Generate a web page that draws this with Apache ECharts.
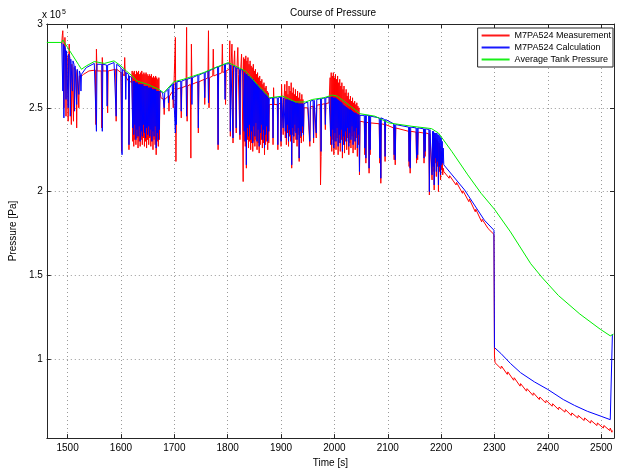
<!DOCTYPE html>
<html>
<head>
<meta charset="utf-8">
<title>Course of Pressure</title>
<script src="https://cdn.jsdelivr.net/npm/echarts@6/dist/echarts.min.js"></script>
<style>
  html, body { margin: 0; padding: 0; background: #fff; }
  #chart { width: 617px; height: 473px; }
</style>
</head>
<body>
<div id="chart"></div>
<script>
// values in units of 1e5 Pa (axis shows "x 10^5"), time in s
const xTicks = [1500, 1600, 1700, 1800, 1900, 2000, 2100, 2200, 2300, 2400, 2500]
const yTicks = [1, 1.5, 2, 2.5, 3]
const seriesNames = ['M7PA524 Measurement', 'M7PA524 Calculation', 'Average Tank Pressure']
const seriesColors = ['#ff0000', '#0000ff', '#00ee00']

const tankAvg = [
  [1461, 2.89], [1489, 2.89], [1491, 2.905], [1500, 2.86], [1510, 2.81], [1520, 2.76], [1526, 2.73],
  [1535, 2.75], [1550, 2.776], [1569, 2.765], [1587, 2.78], [1600, 2.75], [1610, 2.72], [1621, 2.69],
  [1630, 2.66], [1650, 2.64], [1671, 2.61], [1680, 2.59], [1699, 2.655], [1717, 2.67], [1736, 2.69],
  [1755, 2.71], [1773, 2.735], [1801, 2.77], [1833, 2.72], [1855, 2.64], [1879, 2.56], [1903, 2.57],
  [1927, 2.535], [1946, 2.535], [1959, 2.55], [1980, 2.56], [1996, 2.576], [2005, 2.57], [2030, 2.51],
  [2048, 2.465], [2076, 2.45], [2102, 2.41], [2145, 2.39], [2182, 2.376], [2195, 2.35], [2220, 2.24],
  [2250, 2.10], [2275, 1.99], [2300, 1.895], [2330, 1.76], [2368, 1.57], [2390, 1.485], [2420, 1.38],
  [2460, 1.27], [2498, 1.18], [2517, 1.14], [2523, 1.15]
]

const calculated = [
  [1489, 2.89], [1490, 2.88], [1491, 2.60], [1492, 2.88], [1493, 2.44], [1494, 2.87], [1496, 2.85], [1497, 2.55],
  [1498, 2.84], [1500, 2.83], [1501, 2.50], [1502, 2.82], [1504, 2.80], [1505, 2.45], [1506, 2.79], [1508, 2.79],
  [1509, 2.60], [1510, 2.78], [1512, 2.76], [1513, 2.48], [1514, 2.75], [1516, 2.74], [1517, 2.52], [1518, 2.73],
  [1520, 2.72], [1521, 2.58], [1522, 2.72], [1524, 2.70], [1525, 2.60], [1526, 2.70], [1528, 2.71],
  [1535, 2.74], [1550, 2.765], [1553, 2.76], [1554, 2.36], [1555, 2.76], [1564, 2.76], [1565, 2.36], [1566, 2.76],
  [1573, 2.755], [1574, 2.51], [1575, 2.755], [1587, 2.77], [1590, 2.765], [1591, 2.45], [1592, 2.76], [1600, 2.74],
  [1601, 2.735], [1602, 2.22], [1603, 2.73], [1608, 2.715], [1609, 2.55], [1610, 2.71], [1614, 2.70], [1615, 2.28],
  [1616, 2.69], [1620, 2.68],
  [1621, 2.67], [1622, 2.38], [1623, 2.66], [1624, 2.34], [1625, 2.66], [1626, 2.40], [1627, 2.65], [1628, 2.31],
  [1629, 2.65], [1630, 2.37], [1631, 2.65], [1632, 2.33], [1633, 2.64], [1634, 2.39], [1635, 2.64], [1636, 2.30],
  [1637, 2.64], [1638, 2.36], [1639, 2.64], [1640, 2.33], [1641, 2.64], [1642, 2.40], [1643, 2.63], [1644, 2.35],
  [1645, 2.63], [1646, 2.32], [1647, 2.63], [1648, 2.38], [1649, 2.63], [1650, 2.34], [1651, 2.62], [1652, 2.39],
  [1653, 2.62], [1654, 2.33], [1655, 2.62], [1656, 2.37], [1657, 2.62], [1658, 2.30], [1659, 2.61], [1660, 2.36],
  [1661, 2.61], [1662, 2.33], [1663, 2.61], [1664, 2.39], [1665, 2.61], [1666, 2.26], [1667, 2.60], [1668, 2.35],
  [1669, 2.60], [1670, 2.31], [1671, 2.60], [1672, 2.37], [1673, 2.60],
  [1675, 2.60], [1678, 2.59], [1680, 2.585], [1681, 2.50], [1682, 2.59], [1688, 2.61], [1689, 2.53], [1690, 2.615],
  [1696, 2.64], [1697, 2.55], [1698, 2.645], [1701, 2.65], [1702, 2.35], [1703, 2.65], [1704, 2.40], [1705, 2.655],
  [1712, 2.66], [1713, 2.48], [1714, 2.66], [1722, 2.67], [1723, 2.45], [1724, 2.67], [1732, 2.68], [1733, 2.52],
  [1734, 2.68], [1744, 2.695], [1745, 2.38], [1746, 2.695], [1756, 2.71], [1757, 2.56], [1758, 2.71], [1763, 2.72],
  [1764, 2.53], [1765, 2.72], [1781, 2.745], [1782, 2.28], [1783, 2.745], [1794, 2.76], [1795, 2.55], [1796, 2.76],
  [1800, 2.765],
  [1804, 2.76], [1805, 2.36], [1806, 2.755], [1809, 2.75], [1810, 2.32], [1811, 2.75], [1815, 2.74], [1816, 2.38],
  [1817, 2.74], [1822, 2.73], [1823, 2.34], [1824, 2.73], [1828, 2.725],
  [1830, 2.72], [1831, 2.36], [1832, 2.71], [1833, 2.30], [1834, 2.70], [1835, 2.16], [1836, 2.70], [1837, 2.38],
  [1838, 2.69], [1839, 2.33], [1840, 2.69], [1841, 2.40], [1842, 2.68], [1843, 2.31], [1844, 2.68], [1845, 2.36],
  [1846, 2.67], [1847, 2.29], [1848, 2.67], [1849, 2.39], [1850, 2.66], [1851, 2.33], [1852, 2.65], [1853, 2.41],
  [1854, 2.64], [1855, 2.30], [1856, 2.64], [1857, 2.37], [1858, 2.63], [1859, 2.27], [1860, 2.62], [1861, 2.35],
  [1862, 2.61], [1863, 2.40], [1864, 2.61], [1865, 2.31], [1866, 2.60], [1867, 2.37], [1868, 2.59], [1869, 2.26],
  [1870, 2.58], [1871, 2.34], [1872, 2.58], [1873, 2.39], [1874, 2.57], [1875, 2.30], [1876, 2.56], [1877, 2.36],
  [1878, 2.555],
  [1884, 2.56], [1885, 2.32], [1886, 2.56], [1893, 2.56], [1894, 2.28], [1895, 2.56], [1899, 2.565], [1900, 2.30],
  [1901, 2.565], [1903, 2.56], [1904, 2.38], [1905, 2.56],
  [1907, 2.555], [1908, 2.36], [1909, 2.55], [1910, 2.32], [1911, 2.55], [1912, 2.40], [1913, 2.55], [1914, 2.30],
  [1915, 2.545], [1916, 2.37], [1917, 2.545], [1918, 2.34], [1919, 2.54], [1920, 2.16], [1921, 2.54], [1922, 2.38],
  [1923, 2.54], [1924, 2.33], [1925, 2.535], [1926, 2.40], [1927, 2.53], [1928, 2.35], [1929, 2.53], [1930, 2.31],
  [1931, 2.53], [1932, 2.38], [1933, 2.525], [1934, 2.20], [1935, 2.525], [1936, 2.36], [1937, 2.525], [1938, 2.33],
  [1939, 2.525], [1940, 2.39], [1941, 2.525], [1942, 2.34], [1943, 2.525],
  [1950, 2.535], [1953, 2.54], [1954, 2.30], [1955, 2.54], [1960, 2.545], [1961, 2.32], [1962, 2.545], [1965, 2.55],
  [1966, 2.35], [1967, 2.55], [1974, 2.555], [1975, 2.24], [1976, 2.555], [1982, 2.56], [1983, 2.40], [1984, 2.56],
  [1990, 2.565],
  [1992, 2.565], [1993, 2.33], [1994, 2.565], [1995, 2.28], [1996, 2.565], [1997, 2.37], [1998, 2.56], [1999, 2.26],
  [2000, 2.56], [2001, 2.35], [2002, 2.56], [2003, 2.30], [2004, 2.555], [2005, 2.38], [2006, 2.55], [2007, 2.27],
  [2008, 2.545], [2009, 2.34], [2010, 2.54], [2011, 2.29], [2012, 2.535], [2013, 2.37], [2014, 2.53], [2015, 2.24],
  [2016, 2.52], [2017, 2.33], [2018, 2.515], [2019, 2.28], [2020, 2.51], [2021, 2.36], [2022, 2.505], [2023, 2.30],
  [2024, 2.50], [2025, 2.38], [2026, 2.495], [2027, 2.27], [2028, 2.49], [2029, 2.35], [2030, 2.49], [2031, 2.31],
  [2032, 2.485], [2033, 2.39], [2034, 2.48], [2035, 2.28], [2036, 2.475], [2037, 2.36], [2038, 2.47], [2039, 2.30],
  [2040, 2.47], [2041, 2.38], [2042, 2.465], [2043, 2.26], [2044, 2.46], [2045, 2.34], [2046, 2.46], [2047, 2.12],
  [2048, 2.455],
  [2056, 2.455], [2057, 2.26], [2058, 2.455], [2059, 2.20], [2060, 2.455], [2064, 2.455], [2065, 2.14], [2066, 2.455],
  [2067, 2.25], [2068, 2.45], [2084, 2.44], [2085, 2.20], [2086, 2.44], [2087, 2.08], [2088, 2.44], [2094, 2.43],
  [2095, 2.21], [2096, 2.43], [2111, 2.405], [2112, 2.22], [2113, 2.40], [2114, 2.19], [2115, 2.40], [2139, 2.385],
  [2140, 2.18], [2141, 2.385], [2142, 2.14], [2143, 2.385], [2153, 2.38], [2154, 2.20], [2155, 2.38], [2156, 2.22],
  [2157, 2.38], [2167, 2.375], [2168, 2.20], [2169, 2.375], [2170, 2.24], [2171, 2.375], [2177, 2.37], [2178, 2.00],
  [2179, 2.37],
  [2182, 2.366], [2183, 2.10], [2184, 2.36], [2185, 2.15], [2186, 2.36], [2187, 2.04], [2188, 2.35], [2189, 2.20],
  [2190, 2.35], [2191, 2.12], [2192, 2.35], [2193, 2.18], [2194, 2.34], [2195, 2.04], [2196, 2.34], [2197, 2.15],
  [2198, 2.33], [2199, 2.10], [2200, 2.32], [2201, 2.16], [2202, 2.30], [2203, 2.17], [2204, 2.26], [2205, 2.16],
  [2244, 2.01], [2281, 1.83], [2299, 1.77], [2300, 1.07], [2312, 1.035], [2330, 0.975], [2349, 0.92], [2375, 0.865],
  [2400, 0.82], [2429, 0.76], [2450, 0.725], [2474, 0.69], [2500, 0.66], [2517, 0.64], [2520, 0.635], [2521, 1.15]
]

const measured = [
  [1489, 2.88], [1490, 2.93], [1491, 2.96], [1492, 2.86], [1493, 2.50], [1494, 2.85], [1495, 2.92], [1496, 2.83],
  [1497, 2.45], [1498, 2.82], [1500, 2.80], [1501, 2.42], [1502, 2.79], [1503, 2.88], [1504, 2.78], [1506, 2.77],
  [1507, 2.40], [1508, 2.76], [1510, 2.75], [1511, 2.42], [1512, 2.74], [1514, 2.73], [1516, 2.72], [1517, 2.38],
  [1518, 2.71], [1520, 2.70], [1521, 2.50], [1522, 2.69], [1524, 2.69], [1526, 2.69], [1530, 2.70],
  [1540, 2.72], [1552, 2.725], [1553, 2.40], [1554, 2.85], [1555, 2.72], [1563, 2.72], [1564, 2.38], [1565, 2.80],
  [1566, 2.72], [1574, 2.72], [1575, 2.47], [1576, 2.72], [1590, 2.73], [1591, 2.42], [1592, 2.73], [1600, 2.71],
  [1601, 2.24], [1602, 2.71], [1606, 2.69], [1607, 2.80], [1608, 2.69], [1614, 2.66], [1615, 2.25], [1616, 2.66],
  [1620, 2.65],
  [1621, 2.72], [1622, 2.30], [1623, 2.71], [1624, 2.27], [1625, 2.72], [1626, 2.31], [1627, 2.70], [1628, 2.28],
  [1629, 2.72], [1630, 2.32], [1631, 2.71], [1632, 2.26], [1633, 2.72], [1634, 2.30], [1635, 2.70], [1636, 2.27],
  [1637, 2.71], [1638, 2.31], [1639, 2.72], [1640, 2.28], [1641, 2.70], [1642, 2.32], [1643, 2.71], [1644, 2.27],
  [1645, 2.70], [1646, 2.30], [1647, 2.71], [1648, 2.26], [1649, 2.70], [1650, 2.31], [1651, 2.69], [1652, 2.28],
  [1653, 2.70], [1654, 2.32], [1655, 2.69], [1656, 2.27], [1657, 2.70], [1658, 2.30], [1659, 2.68], [1660, 2.25],
  [1661, 2.69], [1662, 2.31], [1663, 2.68], [1664, 2.28], [1665, 2.69], [1666, 2.22], [1667, 2.68], [1668, 2.30],
  [1669, 2.67], [1670, 2.27], [1671, 2.68], [1672, 2.31], [1673, 2.60],
  [1675, 2.56], [1680, 2.55], [1681, 2.46], [1682, 2.55], [1689, 2.57], [1690, 2.48], [1691, 2.57], [1697, 2.60],
  [1698, 2.50], [1699, 2.60], [1701, 2.61], [1702, 2.92], [1703, 2.18], [1704, 2.61], [1712, 2.62], [1713, 2.44],
  [1714, 2.62], [1722, 2.63], [1723, 2.98], [1724, 2.42], [1725, 2.63], [1730, 2.64], [1731, 2.20], [1732, 2.88],
  [1733, 2.64], [1744, 2.655], [1745, 2.35], [1746, 2.655], [1756, 2.67], [1757, 2.52], [1758, 2.67], [1763, 2.68],
  [1764, 2.96], [1765, 2.50], [1766, 2.68], [1772, 2.69], [1773, 2.85], [1774, 2.69], [1781, 2.70], [1782, 2.25],
  [1783, 2.70], [1789, 2.71], [1790, 2.88], [1791, 2.71], [1795, 2.72], [1796, 2.52], [1797, 2.72], [1800, 2.73],
  [1803, 2.73], [1804, 2.90], [1805, 2.33], [1806, 2.73], [1808, 2.88], [1809, 2.72], [1810, 2.29], [1811, 2.72],
  [1813, 2.84], [1814, 2.71], [1816, 2.35], [1817, 2.71], [1819, 2.86], [1820, 2.70], [1823, 2.31], [1824, 2.70],
  [1826, 2.82], [1827, 2.69], [1829, 2.06], [1830, 2.80],
  [1831, 2.30], [1832, 2.79], [1833, 2.27], [1834, 2.81], [1835, 2.14], [1836, 2.78], [1837, 2.31], [1838, 2.80],
  [1839, 2.26], [1840, 2.76], [1841, 2.30], [1842, 2.78], [1843, 2.25], [1844, 2.75], [1845, 2.29], [1846, 2.74],
  [1847, 2.24], [1848, 2.76], [1849, 2.30], [1850, 2.72], [1851, 2.27], [1852, 2.73], [1853, 2.31], [1854, 2.70],
  [1855, 2.25], [1856, 2.71], [1857, 2.29], [1858, 2.68], [1859, 2.23], [1860, 2.69], [1861, 2.28], [1862, 2.66],
  [1863, 2.31], [1864, 2.67], [1865, 2.26], [1866, 2.64], [1867, 2.29], [1868, 2.65], [1869, 2.22], [1870, 2.62],
  [1871, 2.28], [1872, 2.63], [1873, 2.30], [1874, 2.60], [1875, 2.25], [1876, 2.59], [1877, 2.29], [1878, 2.52],
  [1884, 2.52], [1885, 2.28], [1886, 2.62], [1887, 2.52], [1893, 2.52], [1894, 2.25], [1895, 2.52], [1899, 2.53],
  [1900, 2.27], [1901, 2.64], [1902, 2.53], [1904, 2.34], [1905, 2.52],
  [1907, 2.64], [1908, 2.32], [1909, 2.60], [1910, 2.28], [1911, 2.66], [1912, 2.35], [1913, 2.58], [1914, 2.27],
  [1915, 2.63], [1916, 2.33], [1917, 2.60], [1918, 2.30], [1919, 2.65], [1920, 2.14], [1921, 2.59], [1922, 2.34],
  [1923, 2.62], [1924, 2.29], [1925, 2.58], [1926, 2.36], [1927, 2.61], [1928, 2.31], [1929, 2.57], [1930, 2.27],
  [1931, 2.60], [1932, 2.34], [1933, 2.56], [1934, 2.18], [1935, 2.59], [1936, 2.32], [1937, 2.55], [1938, 2.29],
  [1939, 2.58], [1940, 2.35], [1941, 2.55], [1942, 2.30], [1943, 2.50],
  [1950, 2.50], [1953, 2.505], [1954, 2.27], [1955, 2.505], [1960, 2.51], [1961, 2.29], [1962, 2.51], [1965, 2.515],
  [1966, 2.32], [1967, 2.515], [1973, 2.52], [1974, 2.04], [1975, 2.21], [1976, 2.52], [1982, 2.525], [1983, 2.37],
  [1984, 2.525], [1990, 2.53],
  [1992, 2.68], [1993, 2.28], [1994, 2.71], [1995, 2.24], [1996, 2.69], [1997, 2.31], [1998, 2.71], [1999, 2.22],
  [2000, 2.68], [2001, 2.30], [2002, 2.70], [2003, 2.25], [2004, 2.67], [2005, 2.32], [2006, 2.69], [2007, 2.22],
  [2008, 2.65], [2009, 2.29], [2010, 2.67], [2011, 2.24], [2012, 2.63], [2013, 2.31], [2014, 2.65], [2015, 2.20],
  [2016, 2.61], [2017, 2.28], [2018, 2.63], [2019, 2.23], [2020, 2.59], [2021, 2.30], [2022, 2.61], [2023, 2.25],
  [2024, 2.57], [2025, 2.32], [2026, 2.59], [2027, 2.22], [2028, 2.55], [2029, 2.29], [2030, 2.57], [2031, 2.26],
  [2032, 2.54], [2033, 2.33], [2034, 2.56], [2035, 2.23], [2036, 2.53], [2037, 2.30], [2038, 2.54], [2039, 2.25],
  [2040, 2.52], [2041, 2.32], [2042, 2.53], [2043, 2.21], [2044, 2.51], [2045, 2.28], [2046, 2.50], [2047, 2.10],
  [2048, 2.42],
  [2056, 2.415], [2057, 2.22], [2058, 2.415], [2059, 2.17], [2060, 2.415], [2064, 2.41], [2065, 2.11], [2066, 2.41],
  [2067, 2.22], [2068, 2.41], [2084, 2.405], [2085, 2.17], [2086, 2.405], [2087, 2.05], [2088, 2.405], [2094, 2.40],
  [2095, 2.18], [2096, 2.40], [2111, 2.38], [2112, 2.19], [2113, 2.38], [2114, 2.16], [2115, 2.38], [2139, 2.36],
  [2140, 2.15], [2141, 2.36], [2142, 2.11], [2143, 2.36], [2153, 2.355], [2154, 2.17], [2155, 2.355], [2156, 2.19],
  [2157, 2.355], [2167, 2.35], [2168, 2.17], [2169, 2.35], [2170, 2.21], [2171, 2.35], [2177, 2.345], [2178, 1.98],
  [2179, 2.345],
  [2182, 2.34], [2183, 2.07], [2184, 2.33], [2185, 2.12], [2186, 2.33], [2187, 2.01], [2188, 2.32], [2189, 2.17],
  [2190, 2.32], [2191, 2.09], [2192, 2.31], [2193, 2.15], [2194, 2.30], [2195, 2.00], [2196, 2.29], [2197, 2.12],
  [2198, 2.27], [2199, 2.07], [2200, 2.24], [2201, 2.13], [2202, 2.20], [2203, 2.10], [2204, 2.14], [2205, 2.12],
  [2215, 2.08], [2216, 2.095], [2228, 2.04], [2229, 2.055], [2240, 1.99], [2241, 2.005], [2252, 1.94], [2253, 1.955],
  [2264, 1.88], [2265, 1.895], [2276, 1.82], [2277, 1.835], [2288, 1.78], [2289, 1.79], [2299, 1.745], [2300, 1.02],
  [2301, 0.98],
  [2312, 0.945], [2313, 0.96], [2324, 0.91], [2325, 0.925], [2336, 0.875], [2337, 0.89], [2348, 0.84], [2349, 0.855],
  [2360, 0.81], [2361, 0.825], [2372, 0.785], [2373, 0.80], [2384, 0.76], [2385, 0.775], [2396, 0.74], [2397, 0.755],
  [2408, 0.72], [2409, 0.735], [2420, 0.70], [2421, 0.715], [2432, 0.685], [2433, 0.70], [2444, 0.665], [2445, 0.68],
  [2456, 0.65], [2457, 0.665], [2468, 0.635], [2469, 0.65], [2480, 0.62], [2481, 0.635], [2492, 0.605], [2493, 0.62],
  [2504, 0.59], [2505, 0.605], [2516, 0.575], [2517, 0.59], [2520, 0.565], [2521, 0.575]
]

const font = 'Liberation Sans, Arial, sans-serif'
const axisColor = '#262626'

const boxAxis = (position, ticks) => ({
  position,
  axisLine: { show: true, lineStyle: { color: axisColor, width: 1 } },
  axisTick: { show: true, inside: true, length: 4, customValues: ticks, lineStyle: { color: axisColor } },
  axisLabel: { show: false },
  splitLine: { show: false }
})

const chart = echarts.init(document.getElementById('chart'), null, { renderer: 'canvas' })

const option = {
  animation: false,
  backgroundColor: '#fff',
  grid: { left: 42, right: 3, top: 24, bottom: 29 },
  legend: {
    orient: 'vertical',
    right: 4,
    top: 28,
    backgroundColor: '#fff',
    borderColor: axisColor,
    borderWidth: 1,
    borderRadius: 0,
    padding: [2, 2, 2, 4],
    itemWidth: 28,
    itemHeight: 2,
    itemGap: 1,
    itemStyle: { borderWidth: 0 },
    textStyle: { fontSize: 9, fontFamily: font, color: '#000', lineHeight: 11 },
    data: seriesNames.map((name, i) => ({
      name,
      icon: 'rect',
      itemStyle: { color: seriesColors[i], borderWidth: 0, opacity: 0.9 }
    }))
  },
  xAxis: [
    {
      type: 'value',
      min: 1461,
      max: 2524,
      name: 'Time [s]',
      nameLocation: 'middle',
      nameGap: 18,
      nameTextStyle: { fontSize: 10, fontFamily: font, color: '#000' },
      axisLine: { show: true, lineStyle: { color: axisColor, width: 1 } },
      axisTick: { show: true, inside: true, length: 4, customValues: xTicks, lineStyle: { color: axisColor } },
      axisLabel: {
        customValues: xTicks,
        formatter: v => String(v),
        fontSize: 10,
        fontFamily: font,
        color: '#000',
        margin: 5
      },
      splitLine: { show: true, lineStyle: { color: '#9a9a9a', type: [1, 3], width: 1 } }
    },
    Object.assign({ type: 'value', min: 1461, max: 2524 }, boxAxis('top', xTicks))
  ],
  yAxis: [
    {
      type: 'value',
      min: 0.53,
      max: 3,
      name: 'Pressure [Pa]',
      nameLocation: 'middle',
      nameGap: 20,
      nameTextStyle: { fontSize: 10, fontFamily: font, color: '#000' },
      axisLine: { show: true, lineStyle: { color: axisColor, width: 1 } },
      axisTick: { show: true, inside: true, length: 4, customValues: yTicks, lineStyle: { color: axisColor } },
      axisLabel: { customValues: yTicks, fontSize: 10, fontFamily: font, color: '#000', margin: 4 },
      splitLine: { show: true, lineStyle: { color: '#9a9a9a', type: [1, 3], width: 1 } }
    },
    Object.assign({ type: 'value', min: 0.53, max: 3 }, boxAxis('right', yTicks))
  ],
  graphic: [
    {
      type: 'text',
      left: 290,
      top: 8,
      style: { text: 'Course of Pressure', font: '10px ' + font, fill: '#000' }
    },
    {
      type: 'text',
      left: 42,
      top: 9,
      style: {
        text: '{a|x 10}{b|5}',
        rich: {
          a: { fontSize: 10, fontFamily: font, color: '#000' },
          b: { fontSize: 7, fontFamily: font, color: '#000', verticalAlign: 'top', padding: [0, 0, 6, 1] }
        }
      }
    }
  ],
  series: [
    {
      name: seriesNames[0],
      type: 'line',
      data: measured,
      symbol: 'none',
      lineStyle: { color: seriesColors[0], width: 1 },
      itemStyle: { color: seriesColors[0] }
    },
    {
      name: seriesNames[1],
      type: 'line',
      data: calculated,
      symbol: 'none',
      lineStyle: { color: seriesColors[1], width: 1 },
      itemStyle: { color: seriesColors[1] }
    },
    {
      name: seriesNames[2],
      type: 'line',
      data: tankAvg,
      symbol: 'none',
      lineStyle: { color: seriesColors[2], width: 1 },
      itemStyle: { color: seriesColors[2] }
    }
  ]
}

chart.setOption(option)
</script>
</body>
</html>
